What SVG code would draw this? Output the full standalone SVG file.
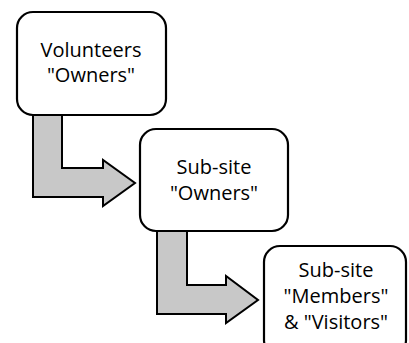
<svg xmlns="http://www.w3.org/2000/svg" width="409" height="343" viewBox="0 0 409 343">
<style>
.box{fill:#fff;stroke:#000;stroke-width:2.2}
.arr{fill:#c8c8c8;stroke:#000;stroke-width:2;stroke-linejoin:miter}
text{font-family:"Open Sans","Liberation Sans",sans-serif;font-size:20px;fill:#000;text-anchor:middle}
</style>
<rect width="409" height="343" fill="#fff"/>
<g id="connectors">
<path class="arr" d="M33,112 L62,112 L62,168 L103,168 L103,160 L135,183 L103,206 L103,197 L33,197 Z"/>
<path class="arr" d="M157,228 L187,228 L187,285 L226,285 L226,276 L258,300 L226,323 L226,314 L157,314 Z"/>
</g>
<g id="n1">
<rect class="box" x="17" y="12" width="149" height="103" rx="16"/>
<text x="91" y="57">Volunteers</text>
<text x="91" y="82">"Owners"</text>
</g>
<g id="n2">
<rect class="box" x="140" y="129" width="148" height="102" rx="16"/>
<text x="214" y="174">Sub-site</text>
<text x="214" y="200">"Owners"</text>
</g>
<g id="n3">
<rect class="box" x="264" y="246" width="142" height="110" rx="16"/>
<text x="336" y="277">Sub-site</text>
<text x="336" y="303">"Members"</text>
<text x="336" y="329">&amp; "Visitors"</text>
</g>
</svg>
